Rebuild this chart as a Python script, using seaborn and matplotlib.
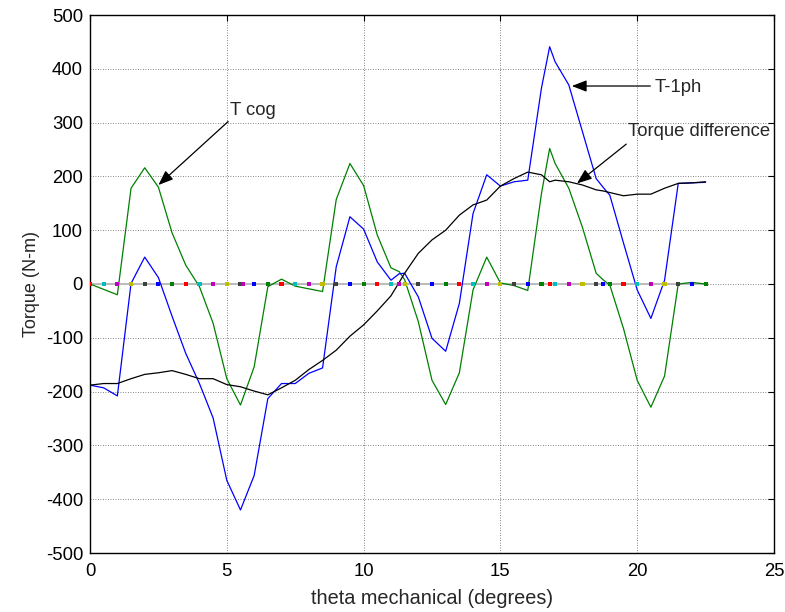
import numpy as np
import pandas as pd
import matplotlib
matplotlib.use("Agg")
import matplotlib.pyplot as plt
import seaborn as sns

# ---------------- data ----------------
theta = [0, 0.5, 1, 1.5, 2, 2.5, 3, 3.5, 4, 4.5, 5, 5.5, 6, 6.5, 7, 7.5, 8, 8.5,
         9, 9.5, 10, 10.5, 11, 11.3, 11.5, 12, 12.5, 13, 13.5, 14, 14.5, 15, 15.5,
         16, 16.5, 16.8, 17, 17.5, 18, 18.5, 18.75, 19, 19.5, 20, 20.5, 21, 21.5,
         22, 22.5]

t_1ph = [-188, -193, -208, 1, 50, 12, -60, -129, -185, -249, -365, -420, -356,
         -213, -185, -185, -166, -156, 32, 125, 102, 41, 7, 19, 20, -24, -101,
         -125, -36, 131, 203, 182, 190, 193, 364, 441, 413, 370, 283, 196, 180,
         165, 76, -11, -64, 7, 187, 188, 189]

t_cog = [0, -10, -20, 178, 216, 180, 95, 35, -5, -73, -176, -225, -154, -5, 9,
         -4, -9, -14, 157, 224, 183, 91, 30, 23, 8, -70, -179, -224, -165, -11,
         50, 2, -3, -12, 168, 252, 224, 178, 105, 20, 8, -2, -83, -179, -229,
         -171, 0, 3, 0]

t_diff = [-188, -185, -185, -176, -168, -165, -161, -168, -176, -176, -187, -191,
          -199, -206, -193, -179, -159, -142, -123, -97, -76, -50, -22, 3, 20, 57,
          82, 100, 128, 147, 156, 182, 196, 208, 203, 190, 193, 190, 184, 175,
          173, 170, 164, 167, 167, 178, 187, 188, 190]

dot_x = [0, 0.5, 1, 1.5, 2, 2.5, 3, 3.5, 4, 4.5, 5, 5.5, 5.6, 6, 6.5, 7, 7.5, 8,
         8.5, 9, 9.5, 10, 10.5, 11, 11.3, 11.5, 12, 12.5, 13, 13.5, 14, 14.5, 15,
         15.5, 16, 16.5, 16.8, 17, 17.5, 18, 18.5, 18.75, 19, 19.5, 20, 20.5, 21,
         21.5, 22, 22.5]
dot_y = [0] * len(dot_x)
dot_c = ["r", "c", "m", "y", "k", "b", "g", "r", "c", "m", "y", "k", "m", "b",
         "g", "r", "c", "m", "y", "k", "b", "g", "r", "c", "m", "y", "k", "b",
         "g", "r", "c", "m", "y", "k", "b", "g", "r", "c", "m", "y", "k", "b",
         "g", "r", "c", "m", "y", "k", "b", "g"]

x_ticks = [0, 5, 10, 15, 20, 25]
y_ticks = [-500, -400, -300, -200, -100, 0, 100, 200, 300, 400, 500]

# ---------------- style ----------------
sns.set_style("white")
plt.rcParams["font.family"] = ["Liberation Sans", "DejaVu Sans"]
plt.rcParams["axes.unicode_minus"] = False

mcolors = {"b": (0, 0, 1), "g": (0, 0.5, 0), "r": (1, 0, 0),
           "c": (0, 0.75, 0.75), "m": (0.75, 0, 0.75),
           "y": (0.75, 0.75, 0), "k": (0.25, 0.25, 0.25)}

fig = plt.figure(figsize=(7.85, 6.12), dpi=100)
ax = fig.add_axes([90 / 785, 1 - 553 / 612, (774 - 90) / 785, (553 - 15) / 612])

ax.set_xlim(0, 25)
ax.set_ylim(-500, 500)
ax.set_xticks(x_ticks)
ax.set_yticks(y_ticks)
ax.grid(True, color="#333333", linestyle=(0, (1, 2)), linewidth=0.6, alpha=0.8)
ax.set_axisbelow(True)

df = pd.DataFrame({"theta": theta, "t_1ph": t_1ph, "t_cog": t_cog, "t_diff": t_diff})
dots = pd.DataFrame({"x": dot_x, "y": dot_y, "c": dot_c})

# faint connecting line under the zero-level dots
sns.lineplot(data=dots, x="x", y="y", color="#b8b8b8", lw=1.3, ax=ax,
             sort=False, estimator=None)

sns.lineplot(data=df, x="theta", y="t_cog", color=(0, 0.5, 0), lw=0.9, ax=ax,
             sort=False, estimator=None)
sns.lineplot(data=df, x="theta", y="t_1ph", color=(0, 0, 1), lw=0.9, ax=ax,
             sort=False, estimator=None)
sns.lineplot(data=df, x="theta", y="t_diff", color="black", lw=0.9, ax=ax,
             sort=False, estimator=None)

sns.scatterplot(data=dots, x="x", y="y", hue="c", palette=mcolors, marker="s",
                s=9, linewidth=0, legend=False, ax=ax, zorder=3)

fs = 13.3
ax.tick_params(direction="in", length=4, width=0.8, top=True, right=True,
               labelsize=fs, colors="black")
ax.tick_params(axis="x", pad=7)
ax.tick_params(axis="y", pad=5)
for s in ax.spines.values():
    s.set_visible(True)
    s.set_color("black")
    s.set_linewidth(1.0)

ax.set_xlabel("theta mechanical (degrees)", fontsize=14.3, labelpad=7)
ax.set_ylabel("Torque (N-m)", fontsize=13.0, labelpad=4)

arrow = dict(arrowstyle="-|>,head_length=0.9,head_width=0.35", color="black",
             lw=0.9, shrinkA=0, shrinkB=0)
ax.annotate("", xy=(2.5, 184), xytext=(5.05, 302), arrowprops=arrow)
ax.text(5.12, 322, "T cog", fontsize=fs, ha="left", va="center")
ax.annotate("", xy=(17.61, 368), xytext=(20.48, 368), arrowprops=arrow)
ax.text(20.62, 366, "T-1ph", fontsize=fs, ha="left", va="center")
ax.annotate("", xy=(17.8, 187), xytext=(19.6, 260), arrowprops=arrow)
ax.text(19.65, 283, "Torque difference", fontsize=fs, ha="left", va="center",
        clip_on=False)

fig.savefig("out.png", dpi=100)
